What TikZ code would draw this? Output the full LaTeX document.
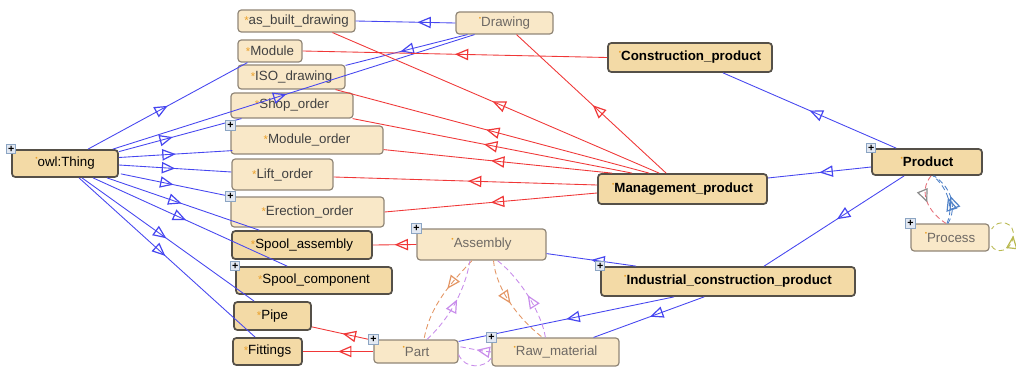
\documentclass[tikz,border=0pt]{standalone}
\usepackage{fontspec}
\setmainfont{Liberation Sans}
\usetikzlibrary{arrows.meta,decorations.markings,calc}

\definecolor{isablue}{RGB}{70,70,240}
\definecolor{relred}{RGB}{240,55,55}
\definecolor{fillL}{RGB}{249,232,200}
\definecolor{fillD}{RGB}{243,218,166}
\definecolor{edgeL}{RGB}{145,135,120}
\definecolor{edgeD}{RGB}{85,80,72}
\definecolor{txtA}{RGB}{65,65,65}
\definecolor{txtB}{RGB}{110,105,100}
\definecolor{staror}{RGB}{235,160,40}
\definecolor{plusedge}{RGB}{140,165,195}
\definecolor{plusfill}{RGB}{226,232,242}
\definecolor{partorange}{RGB}{228,150,100}
\definecolor{partviolet}{RGB}{200,140,235}
\definecolor{selfolive}{RGB}{185,185,80}
\definecolor{procred}{RGB}{230,110,120}
\definecolor{procblue}{RGB}{80,130,200}
\definecolor{procgray}{RGB}{140,140,140}

\newcommand\orstar{{\fontsize{8.5}{8}\selectfont\textcolor{staror}{*}}}
\newcommand\ordot{\raisebox{0.9ex}{\fontsize{5}{5}\selectfont\textcolor{staror}{\textbullet}}}

\tikzset{
  cls/.style={rectangle, rounded corners=2.5pt, inner sep=0pt, font=\fontsize{10}{12}\selectfont},
  clsL/.style={cls, draw=edgeL, fill=fillL, line width=0.9pt, text=txtA},
  clsM/.style={clsL, text=txtB},
  clsD/.style={cls, draw=edgeD, fill=fillD, line width=1.3pt, text=black},
  clsB/.style={clsD, font=\fontsize{10}{12}\selectfont\bfseries},
  plusbox/.style={rectangle, draw=plusedge, fill=plusfill, line width=0.6pt,
    minimum size=7pt, inner sep=0pt, font=\fontsize{8}{8}\selectfont\bfseries, text=black},
  tipmark/.style={postaction={decorate}, decoration={markings,
    mark=at position #1 with {\arrow[line width=0.9pt]{Triangle[open,length=10pt,width=8.5pt]}}}},
  isa/.style={draw=isablue, line width=0.65pt, tipmark=#1},
  isa/.default=0.5,
  rel/.style={draw=relred, line width=0.65pt, tipmark=#1},
  rel/.default=0.5,
  dsh/.style={line width=0.65pt, dash pattern=on 4pt off 2.5pt},
}

\begin{document}
\begin{tikzpicture}[x=0.75pt,y=-0.75pt]
\fill[white] (0,0) rectangle (1016,367);
\useasboundingbox (0,0) rectangle (1016,367);

% classes
\node[clsL, minimum width=87.75pt, minimum height=16.5pt] (asbuilt) at (296.5,21) {\orstar as\_built\_drawing};
\node[clsM, minimum width=72.75pt, minimum height=16.5pt] (drawing) at (504.5,23) {\ordot Drawing};
\node[clsL, minimum width=48pt, minimum height=16.5pt] (module) at (270,51) {\orstar Module};
\node[clsB, minimum width=123pt, minimum height=21.75pt] (constr) at (690,57.5) {\ordot Construction\_product};
\node[clsL, minimum width=80.25pt, minimum height=18pt] (iso) at (291.5,77) {\orstar ISO\_drawing};
\node[clsL, minimum width=91.5pt, minimum height=18.75pt] (shop) at (292,105.5) {\orstar Shop\_order};
\node[clsL, minimum width=114pt, minimum height=21pt] (modorder) at (307,140) {\orstar Module\_order};
\node[clsD, minimum width=79.5pt, minimum height=20.25pt] (thing) at (65,163.5) {\ordot owl:Thing};
\node[clsL, minimum width=75.75pt, minimum height=23.25pt] (lift) at (282.5,174.5) {\orstar Lift\_order};
\node[clsL, minimum width=114.75pt, minimum height=22.5pt] (erection) at (307.5,212) {\orstar Erection\_order};
\node[clsD, minimum width=105pt, minimum height=21pt] (spoolasm) at (302,245) {\orstar Spool\_assembly};
\node[clsD, minimum width=117pt, minimum height=20.25pt] (spoolcomp) at (314,280.5) {\orstar Spool\_component};
\node[clsD, minimum width=57.75pt, minimum height=21pt] (pipe) at (272.5,316) {\orstar Pipe};
\node[clsD, minimum width=51.75pt, minimum height=20.25pt] (fittings) at (267.5,351.5) {\orstar Fittings};
\node[clsM, minimum width=96.75pt, minimum height=23.25pt] (assembly) at (481.5,244.5) {\ordot Assembly};
\node[clsM, minimum width=63pt, minimum height=17.25pt] (part) at (416,351.5) {\ordot Part};
\node[clsM, minimum width=95.25pt, minimum height=21pt] (raw) at (555.5,352) {\ordot Raw\_material};
\node[clsB, minimum width=126.75pt, minimum height=22.5pt] (mgmt) at (682.5,189) {\ordot Management\_product};
\node[clsB, minimum width=190.5pt, minimum height=21.75pt] (indus) at (728,281.5) {\ordot Industrial\_construction\_product};
\node[clsB, minimum width=82.5pt, minimum height=19.5pt] (product) at (927,162) {\ordot Product};
\node[clsM, minimum width=58.5pt, minimum height=20.25pt] (process) at (950,237.5) {\ordot Process};

% subclass links from owl:Thing
\draw[isa=0.5]  ($(thing.north)+(23,0)$) -- ($(module.south west)+(10,0)$);
\draw[isa=0.48] ($(thing.north east)+(-6,0)$) -- ($(drawing.south)+(-30,0)$);
\draw[isa=0.44] ($(thing.north east)+(0,2.5)$) -- ($(shop.south west)+(11,0)$);
\draw[isa=0.5]  ($(thing.east)+(0,-6)$) -- ($(modorder.south west)+(2,-4)$);
\draw[isa=0.5]  ($(thing.east)+(0,1.5)$) -- ($(lift.west)+(0,-2.5)$);
\draw[isa=0.48] ($(thing.south east)+(2,-4)$) -- (erection.north west);
\draw[isa=0.49] ($(thing.south)+(42,0)$) -- ($(spoolasm.north west)+(28,0)$);
\draw[isa=0.48] ($(thing.south)+(28,0)$) -- ($(spoolcomp.north west)+(52,0)$);
\draw[isa=0.49] ($(thing.south)+(17,0)$) -- ($(pipe.north west)+(21,0)$);
\draw[isa=0.49] ($(thing.south)+(14,0)$) -- ($(fittings.north west)+(23,0)$);

% subclass links from Drawing
\draw[isa=0.38] (drawing.west) -- (asbuilt.east);
\draw[isa=0.55] ($(drawing.south west)+(12,0)$) -- ($(iso.north east)+(0,1)$);

% links from Construction_product and Management_product
\draw[rel=0.5]  (constr.west) -- (module.east);
\draw[rel=0.51] ($(mgmt.north west)+(62,0)$) -- ($(asbuilt.south)+(36,0)$);
\draw[rel=0.49] ($(mgmt.north west)+(69,0)$) -- ($(drawing.south)+(12,0)$);
\draw[rel=0.52] ($(mgmt.north west)+(52,0)$) -- ($(iso.south east)+(-10,0)$);
\draw[rel=0.53] ($(mgmt.north west)+(35,0)$) -- ($(shop.south east)+(-1,0)$);
\draw[rel=0.53] ($(mgmt.north west)+(15,0)$) -- ($(modorder.south east)+(0,-5)$);
\draw[rel=0.49] ($(mgmt.west)+(0,-4)$) -- ($(lift.east)+(0,2.5)$);
\draw[rel=0.5]  ($(mgmt.west)+(0,4)$) -- (erection.east);

% links from Assembly and Part
\draw[rel=0.5] (assembly.west) -- (spoolasm.east);
\draw[rel=0.5] ($(part.north west)+(0,1)$) -- ($(pipe.south east)+(0,-4)$);
\draw[rel=0.5] (part.west) -- (fittings.east);

% subclass links from Product and Industrial_construction_product
\draw[isa=0.5]  ($(product.north west)+(25,0)$) -- ($(constr.south)+(33,0)$);
\draw[isa=0.5]  ($(product.west)+(0,5)$) -- ($(mgmt.east)+(0,-11)$);
\draw[isa=0.48] ($(product.south west)+(33,0)$) -- ($(indus.north west)+(164,0)$);
\draw[isa=0.5]  ($(indus.north west)+(36,0)$) -- ($(assembly.south east)+(0,-7)$);
\draw[isa=0.5]  ($(indus.south west)+(74,0)$) -- ($(part.north east)+(0,2)$);
\draw[isa=0.49] ($(indus.south west)+(104,0)$) -- ($(raw.north east)+(-26,0)$);

% object properties between Assembly, Part and Raw_material
\draw[dsh, draw=partorange, tipmark=0.4]
  ($(assembly.south)+(-9.5,0)$) .. controls (452,282) and (430,305) .. ($(part.north)+(8,0)$);
\draw[dsh, draw=partviolet, tipmark=0.55]
  ($(part.north)+(11,0)$) .. controls (450,318) and (465,290) .. ($(assembly.south)+(-11.5,0)$);
\draw[dsh, draw=partorange, tipmark=0.5]
  ($(assembly.south)+(12,0)$) .. controls (496,290) and (520,320) .. ($(raw.north west)+(51,0)$);
\draw[dsh, draw=partviolet, tipmark=0.5]
  ($(raw.north west)+(54,0)$) .. controls (542,315) and (522,280) .. ($(assembly.south)+(16,0)$);
\draw[dsh, draw=partviolet, tipmark=0.45]
  (raw.west) .. controls (480,351) and (468,348) .. ($(part.east)+(0,-5)$);
\draw[dsh, draw=partviolet]
  ($(part.east)+(0,3)$) .. controls (465,370) and (485,368) .. ($(raw.west)+(0,6)$);

% Product and Process
\draw[dsh, draw=procred, postaction={decorate}, decoration={markings,
    mark=at position 0.5 with {\arrow[line width=0.9pt, procgray]{Triangle[open,length=10pt,width=8.5pt]}}}]
  ($(product.south)+(4,0)$) .. controls (918,192) and (928,212) .. ($(process.north)+(-4,0)$);
\draw[dsh, draw=procblue, tipmark=0.5]
  ($(process.north)+(-3,0)$) .. controls (953,210) and (950,190) .. ($(product.south)+(6,0)$);
\draw[dsh, draw=procblue, tipmark=0.52]
  ($(process.north)+(-2,0)$) .. controls (957,208) and (952,188) .. ($(product.south)+(7,0)$);
\draw[dsh, draw=selfolive, tipmark=0.5]
  ($(process.east)+(2,8.5)$) .. controls (996,254) and (1011,252) .. (1013,237)
  .. controls (1016,222) and (998,218) .. ($(process.east)+(2,-8.5)$);

% expand markers
\foreach \n in {thing,modorder,erection,spoolcomp,assembly,part,raw,indus,product,process}
  \node[plusbox] (\n plus) at (\n.north west) {+};
\end{tikzpicture}
\end{document}
